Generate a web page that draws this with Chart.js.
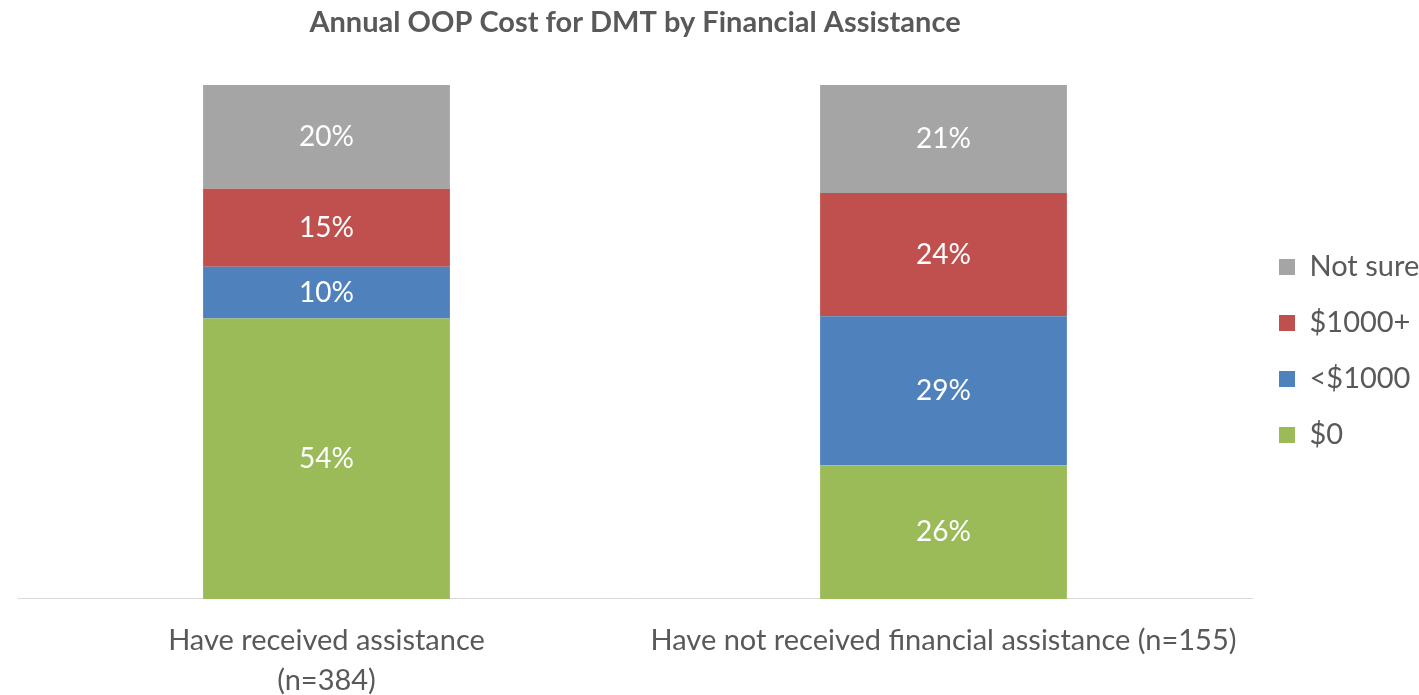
<!DOCTYPE html>
<html>
<head>
<meta charset="utf-8">
<script src="https://cdn.jsdelivr.net/npm/chart.js@4.4.1/dist/chart.umd.min.js"></script>
<style>
    body { margin: 0; background: #fff; overflow: hidden; }
    #wrap { width: 1419px; height: 695px; position: relative; }
</style>
</head>
<body>
<div id="wrap"><canvas id="oopChart"></canvas></div>
<script>
// categories and series (percent of respondents)
const categories = [
    ["Have received assistance", "(n=384)"],
    "Have not received financial assistance (n=155)"
];
const seriesNames = ["$0", "<$1000", "$1000+", "Not sure"];
const zeroCost = [54, 26];
const under1000 = [10, 29];
const over1000 = [15, 24];
const notSure = [20, 21];
const seriesColors = ["#9BBB59", "#4F81BD", "#C0504D", "#A5A5A5"];

const titleText = "Annual OOP Cost for DMT by Financial Assistance";
const fontFamily = "Lato, 'Open Sans', sans-serif";
const textColor = "#595959";

// 100% stacked: each bar is scaled to its own total
const rawSeries = [zeroCost, under1000, over1000, notSure];
const totals = categories.map((c, i) => rawSeries.reduce((s, arr) => s + arr[i], 0));

const datasets = rawSeries.map((arr, k) => ({
    label: seriesNames[k],
    data: arr.map((v, i) => v / totals[i] * 100),
    raw: arr,
    backgroundColor: seriesColors[k],
    borderWidth: 0,
    barPercentage: 0.4,
    categoryPercentage: 1
}));

// value labels in the middle of each segment
const segmentLabels = {
    id: 'segmentLabels',
    afterDatasetsDraw(chart) {
        const ctx = chart.ctx;
        ctx.save();
        ctx.font = "28px " + fontFamily;
        ctx.fillStyle = "#ffffff";
        ctx.textAlign = "center";
        ctx.textBaseline = "middle";
        chart.data.datasets.forEach((ds, k) => {
            chart.getDatasetMeta(k).data.forEach((bar, i) => {
                ctx.fillText(ds.raw[i] + "%", bar.x, (bar.y + bar.base) / 2);
            });
        });
        ctx.restore();
    }
};

// title centred over the plot area like the original
const plotTitle = {
    id: 'plotTitle',
    afterDraw(chart) {
        const ctx = chart.ctx;
        const area = chart.chartArea;
        ctx.save();
        ctx.font = "bold 29px " + fontFamily;
        ctx.fillStyle = textColor;
        ctx.textAlign = "center";
        ctx.textBaseline = "middle";
        ctx.fillText(titleText, (area.left + area.right) / 2, 23);
        ctx.restore();
    }
};

new Chart(document.getElementById('oopChart'), {
    type: 'bar',
    data: { labels: categories, datasets: datasets },
    plugins: [segmentLabels, plotTitle],
    options: {
        responsive: true,
        maintainAspectRatio: false,
        animation: false,
        layout: { padding: { top: 85, left: 18, right: 0, bottom: -20 } },
        plugins: {
            title: { display: false },
            tooltip: { enabled: false },
            legend: {
                position: 'right',
                fullSize: false,
                reverse: true,
                maxWidth: 167,
                // empty title only nudges the entries down a little
                title: { display: true, text: ' ', font: { size: 10, lineHeight: 1.2 }, padding: 3 },
                labels: {
                    boxWidth: 16,
                    boxHeight: 16,
                    padding: 27,
                    color: textColor,
                    font: { family: fontFamily, size: 29 }
                }
            }
        },
        scales: {
            x: {
                stacked: true,
                grid: { display: false },
                border: { display: true, color: '#d9d9d9', width: 1 },
                ticks: {
                    color: textColor,
                    font: { family: fontFamily, size: 29, lineHeight: 1.38 },
                    padding: 14,
                    maxRotation: 0
                }
            },
            y: {
                stacked: true,
                display: false,
                min: 0,
                max: 100
            }
        }
    }
});
</script>
</body>
</html>
